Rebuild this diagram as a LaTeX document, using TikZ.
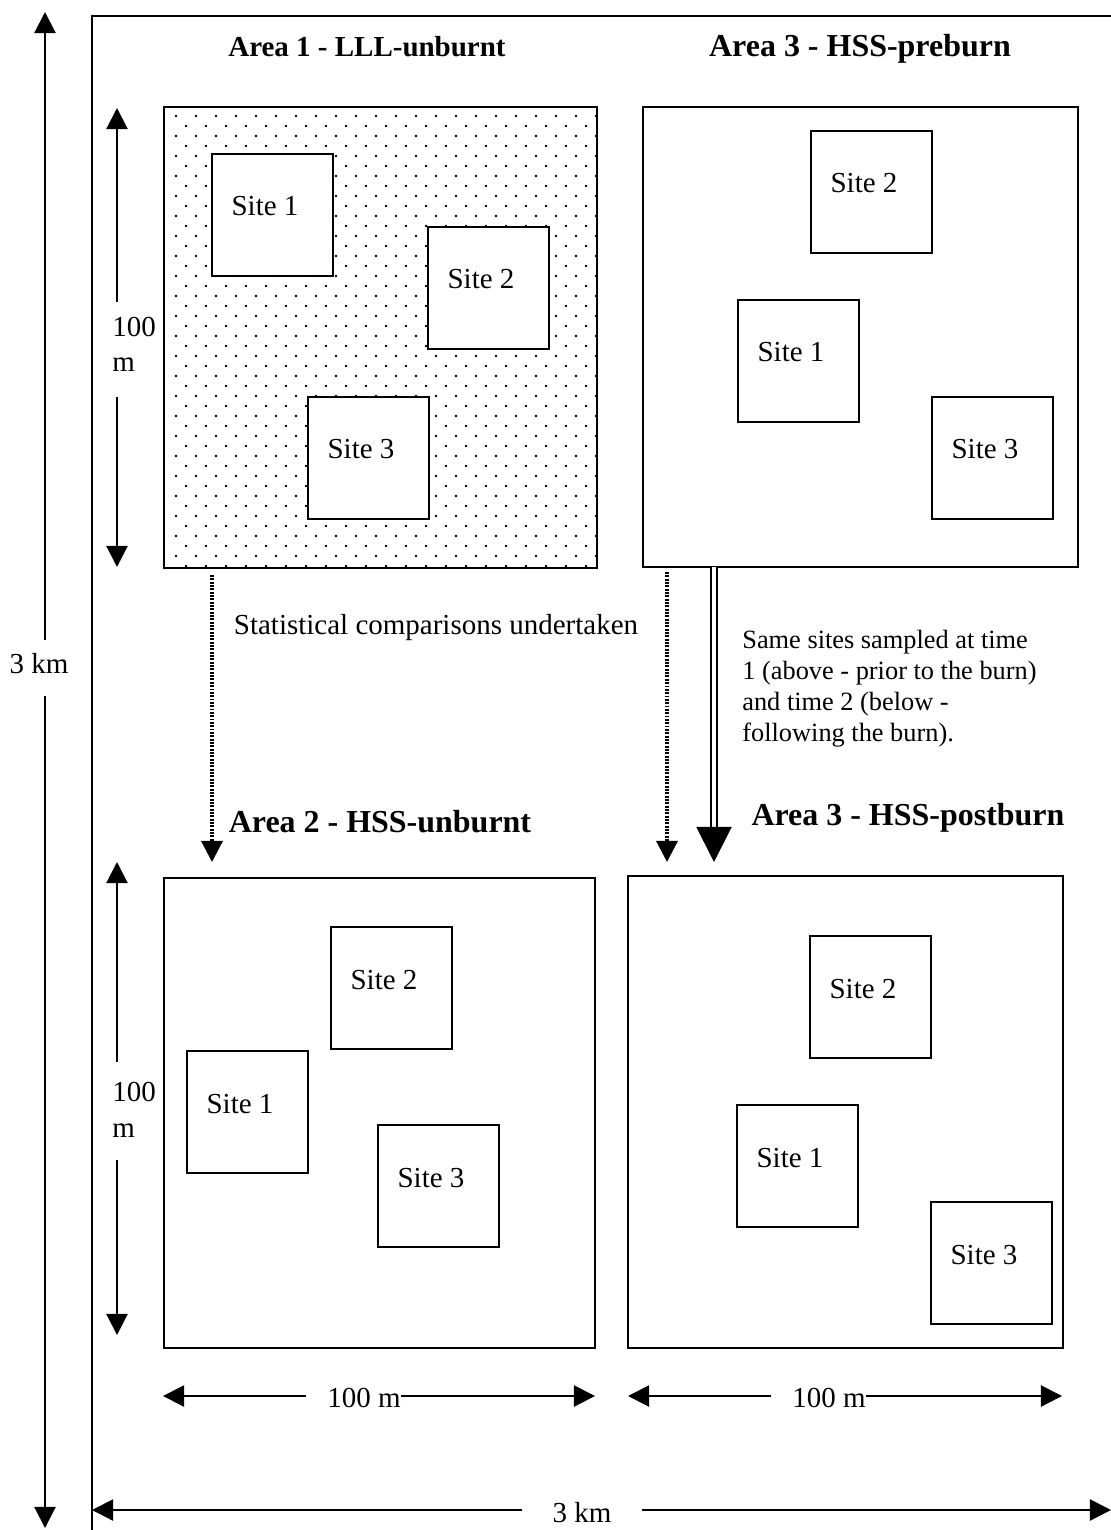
\documentclass[tikz,border=0pt]{standalone}
\usepackage{fontspec}
\setmainfont{Liberation Serif}
\usetikzlibrary{arrows.meta}

% one site square with its label
\newcommand{\drawsite}[4]{%
    \draw[sitebox] (#2,#3) rectangle ++(121,122);
    \node[lbl] (#1) at (#2+53,#3+62) {Site #4};
}

\begin{document}
\begin{tikzpicture}[
    x=0.02cm, y=-0.02cm,
    frame/.style={line width=1.5pt},
    areabox/.style={line width=1.4pt},
    sitebox/.style={line width=1.2pt, fill=white},
    dimline/.style={line width=1.2pt, -{Triangle[length=12pt, width=12pt]}},
    cmpline/.style={line width=1.8pt, dash pattern=on 1.1pt off 0.8pt, -{Triangle[length=12pt, width=12pt]}},
    burnline/.style={double, line width=1.1pt, double distance=2pt, -{Triangle[length=20pt, width=20pt]}},
    areatitle/.style={anchor=base, inner sep=0pt, font=\fontsize{18.2}{22}\selectfont\bfseries},
    lbl/.style={anchor=base, inner sep=0pt, font=\fontsize{16.5}{20}\selectfont},
    note/.style={anchor=north west, inner sep=0pt, align=left, font=\fontsize{15}{17.6}\selectfont}
]
\useasboundingbox (0,0) rectangle (1111,1530);

% Outer frame (3 km square)
\draw[frame] (1111,16) -- (92,16) -- (92,1530);

% 3 km dimensions
\coordinate (kmtop) at (45,12);
\coordinate (kmbot) at (45,1528);
\node[lbl] (kmleft) at (39,673) {3 km};
\draw[dimline, shorten <=7pt] (kmleft.north -| kmtop) -- (kmtop);
\draw[dimline, shorten <=13pt] (kmleft.south -| kmbot) -- (kmbot);

\coordinate (kbl) at (92,1510);
\coordinate (kbr) at (1111,1510);
\node[lbl] (kmbottom) at (582,1522) {3 km};
\draw[dimline, shorten <=17pt] (kmbottom.west |- kbl) -- (kbl);
\draw[dimline, shorten <=17pt] (kmbottom.east |- kbr) -- (kbr);

% ---------------------------------------------------------
% AREA 1 (dotted)
% ---------------------------------------------------------
\node[areatitle, font=\fontsize{16.5}{20}\selectfont\bfseries] (a1title) at (367,57) {Area 1 - LLL-unburnt};
\begin{scope}
    \clip (164,107) rectangle (597,568);
    \foreach \i in {0,...,21} {
        \foreach \j in {0,...,45} {
            \fill ({176+\i*20+mod(\j,2)*10},{116+\j*10}) circle (0.75pt);
        }
    }
\end{scope}
\draw[areabox] (164,107) rectangle (597,568);
\drawsite{a1s1}{212}{154}{1}
\drawsite{a1s2}{428}{227}{2}
\drawsite{a1s3}{308}{397}{3}

% 100 m (vertical)
\coordinate (v1t) at (117,108);
\coordinate (v1b) at (117,567);
\node[lbl, anchor=base west] (v1num) at (112,337) {100};
\node[lbl, anchor=base west] (v1unit) at (112,372) {m};
\draw[dimline, shorten <=9pt] (v1num.north -| v1t) -- (v1t);
\draw[dimline, shorten <=14pt] (v1unit.south -| v1b) -- (v1b);

% ---------------------------------------------------------
% AREA 3 preburn
% ---------------------------------------------------------
\node[areatitle] (a3title) at (860,57) {Area 3 - HSS-preburn};
\draw[areabox] (643,107) rectangle (1078,567);
\drawsite{a3s2}{811}{131}{2}
\drawsite{a3s1}{738}{300}{1}
\drawsite{a3s3}{932}{397}{3}

% Comparisons and repeat sampling
\coordinate (c1s) at (212,575);
\coordinate (c1e) at (212,862);
\coordinate (c3s) at (667,572);
\coordinate (c3e) at (667,862);
\coordinate (b3s) at (714,567);
\coordinate (b3e) at (714,862);
\draw[cmpline] (c1s) -- (c1e);
\draw[cmpline] (c3s) -- (c3e);
\draw[burnline] (b3s) -- (b3e);

\node[lbl] (stat) at (436,634) {Statistical comparisons undertaken};
\node[note] (same) at (742,630) {Same sites sampled at time\\1 (above - prior to the burn)\\and time 2 (below -\\following the burn).};

% ---------------------------------------------------------
% AREA 2
% ---------------------------------------------------------
\node[areatitle] (a2title) at (380,832) {Area 2 - HSS-unburnt};
\draw[areabox] (164,878) rectangle (595,1348);
\drawsite{a2s2}{331}{927}{2}
\drawsite{a2s1}{187}{1051}{1}
\drawsite{a2s3}{378}{1125}{3}

% 100 m (vertical)
\coordinate (v2t) at (117,862);
\coordinate (v2b) at (117,1335);
\node[lbl, anchor=base west] (v2num) at (112,1101) {100};
\node[lbl, anchor=base west] (v2unit) at (112,1137) {m};
\draw[dimline, shorten <=11pt] (v2num.north -| v2t) -- (v2t);
\draw[dimline, shorten <=13pt] (v2unit.south -| v2b) -- (v2b);

% 100 m (horizontal)
\coordinate (h2l) at (163,1396);
\coordinate (h2r) at (595,1396);
\node[lbl] (h2lab) at (364,1407) {100 m};
\draw[dimline, shorten <=12pt] (h2lab.west |- h2l) -- (h2l);
\draw[dimline] (h2lab.east |- h2r) -- (h2r);

% ---------------------------------------------------------
% AREA 3 postburn
% ---------------------------------------------------------
\node[areatitle] (a3ptitle) at (908,825) {Area 3 - HSS-postburn};
\draw[areabox] (628,876) rectangle (1063,1348);
\drawsite{a3ps2}{810}{936}{2}
\drawsite{a3ps1}{737}{1105}{1}
\drawsite{a3ps3}{931}{1202}{3}

% 100 m (horizontal)
\coordinate (h3l) at (628,1396);
\coordinate (h3r) at (1062,1396);
\node[lbl] (h3lab) at (829,1407) {100 m};
\draw[dimline, shorten <=12pt] (h3lab.west |- h3l) -- (h3l);
\draw[dimline] (h3lab.east |- h3r) -- (h3r);

\end{tikzpicture}
\end{document}
